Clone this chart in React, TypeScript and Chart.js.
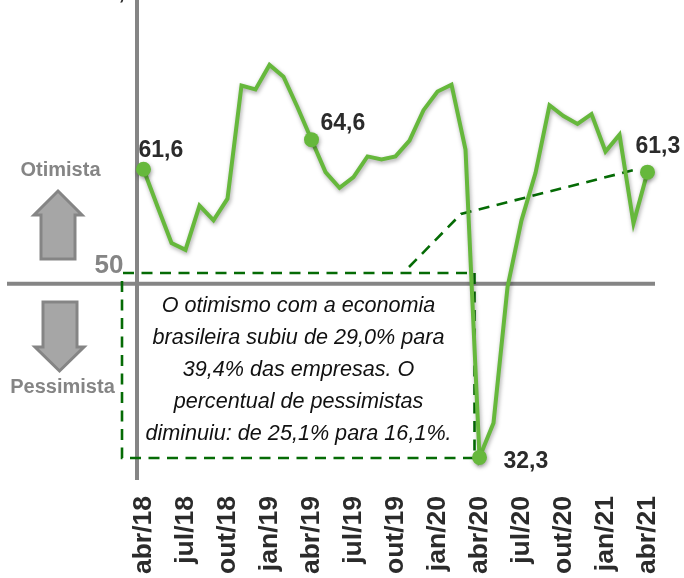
import React, { useEffect, useRef } from "react";
import { Chart, registerables } from "chart.js";

Chart.register(...registerables);

const months = [
  "abr/18","mai/18","jun/18","jul/18","ago/18","set/18","out/18","nov/18","dez/18","jan/19","fev/19","mar/19","abr/19",
  "mai/19","jun/19","jul/19","ago/19","set/19","out/19","nov/19","dez/19","jan/20","fev/20","mar/20","abr/20",
  "mai/20","jun/20","jul/20","ago/20","set/20","out/20","nov/20","dez/20","jan/21","fev/21","mar/21","abr/21",
];
const values = [
  61.6,57.8,54.1,53.4,57.9,56.4,58.6,70.1,69.7,72.2,71.0,67.9,64.6,
  61.3,59.7,60.8,62.9,62.6,62.9,64.5,67.6,69.5,70.2,63.6,32.3,
  35.8,49.6,56.4,61.2,68.1,67.0,66.2,67.2,63.4,65.1,56.1,61.3,
];
const labelled = [0, 12, 24, 36];
const valueLabels: Record<number, string> = { 0: "61,6", 12: "64,6", 24: "32,3", 36: "61,3" };
const labelOffsets: Record<number, [number, number]> = { 0: [-5, -12], 12: [9, -10], 24: [24, 11], 36: [-12, -19] };
const noteLines = [
  "O otimismo com a economia",
  "brasileira subiu de 29,0% para",
  "39,4% das empresas. O",
  "percentual de pessimistas",
  "diminuiu: de 25,1% para 16,1%.",
];
const GREEN = "#66B83C";
const GRAY = "#858585";
const DASH = "#056B05";

const decor = {
  id: "decor",
  beforeDatasetsDraw(chart: any) {
    const { ctx, scales } = chart;
    const y50 = scales.y.getPixelForValue(50) + 0.5;
    ctx.save();
    ctx.fillStyle = "#111";
    ctx.font = "italic 22.5px 'Liberation Sans'";
    ctx.textAlign = "center";
    ctx.textBaseline = "alphabetic";
    noteLines.forEach((t, i) => {
      ctx.save();
      ctx.translate(298.5, 312 + i * 32);
      ctx.scale(0.96, 1);
      ctx.fillText(t, 0, 0);
      ctx.restore();
    });

    ctx.strokeStyle = GRAY;
    ctx.lineWidth = 4;
    ctx.beginPath();
    ctx.moveTo(7, y50);
    ctx.lineTo(655, y50);
    ctx.stroke();
    ctx.beginPath();
    ctx.moveTo(137, 0);
    ctx.lineTo(137, 480);
    ctx.stroke();

    ctx.strokeStyle = DASH;
    ctx.lineWidth = 2.6;
    ctx.setLineDash([11, 7.5]);
    const seg = (pts: number[][]) => {
      ctx.beginPath();
      pts.forEach((p, i) => (i ? ctx.lineTo(p[0], p[1]) : ctx.moveTo(p[0], p[1])));
      ctx.stroke();
    };
    seg([[123, 273], [472, 273]]);
    seg([[122, 281], [122, 458], [474, 458]]);
    seg([[474.5, 273], [474.5, 458]]);
    seg([[409, 267], [461, 214], [634, 170]]);
    ctx.setLineDash([]);

    const arrow = (pts: number[][]) => {
      ctx.beginPath();
      pts.forEach((p, i) => (i ? ctx.lineTo(p[0], p[1]) : ctx.moveTo(p[0], p[1])));
      ctx.closePath();
      ctx.fillStyle = "#A6A6A6";
      ctx.strokeStyle = "#858585";
      ctx.lineWidth = 3;
      ctx.fill();
      ctx.stroke();
    };
    arrow([[58, 191], [82, 215], [75, 215], [75, 259], [41, 259], [41, 215], [34, 215]]);
    arrow([[43, 302], [77, 302], [77, 347], [84, 347], [59.5, 371], [35, 347], [43, 347]]);

    ctx.fillStyle = GRAY;
    ctx.font = "bold 20px 'Liberation Sans'";
    ctx.textAlign = "center";
    ctx.fillText("Otimista", 60.5, 176);
    ctx.fillText("Pessimista", 62.5, 393);
    ctx.font = "bold 26px 'Liberation Sans'";
    ctx.textAlign = "right";
    ctx.fillText("50", 123.5, 273);
    ctx.fillStyle = "#2B2B2B";
    ctx.font = "bold 23px 'Liberation Sans'";
    ctx.textAlign = "left";
    ctx.fillText(",", 118.5, -1.5);
    ctx.restore();
  },
  beforeDatasetDraw(chart: any) {
    const { ctx } = chart;
    ctx.save();
    ctx.shadowColor = "rgba(0,0,0,0.35)";
    ctx.shadowBlur = 4;
    ctx.shadowOffsetX = 1;
    ctx.shadowOffsetY = 2;
  },
  afterDatasetDraw(chart: any) {
    chart.ctx.restore();
  },
  afterDatasetsDraw(chart: any) {
    const { ctx } = chart;
    const meta = chart.getDatasetMeta(0);
    ctx.save();
    ctx.fillStyle = "#2B2B2B";
    ctx.font = "bold 23px 'Liberation Sans'";
    ctx.textAlign = "left";
    ctx.textBaseline = "alphabetic";
    labelled.forEach((i) => {
      const p = meta.data[i];
      const o = labelOffsets[i];
      ctx.fillText(valueLabels[i], p.x + o[0], p.y + o[1]);
    });
    ctx.restore();
  },
};

export default function App() {
  const ref = useRef<HTMLCanvasElement>(null);
  useEffect(() => {
    document.body.style.margin = "0";
    const chart = new Chart(ref.current!, {
      type: "line",
      data: {
        labels: months,
        datasets: [
          {
            data: values,
            borderColor: GREEN,
            backgroundColor: GREEN,
            borderWidth: 4,
            tension: 0,
            borderJoinStyle: "miter",
            clip: false,
            pointRadius: (c: any) => (labelled.includes(c.dataIndex) ? 7.5 : 0),
            pointBackgroundColor: GREEN,
            pointBorderWidth: 0,
          },
        ],
      },
      plugins: [decor],
      options: {
        responsive: false,
        animation: false,
        layout: { autoPadding: false, padding: { left: 136.5, right: 29.5, top: 0, bottom: 0 } },
        plugins: { legend: { display: false }, tooltip: { enabled: false } },
        scales: {
          x: {
            offset: true,
            border: { display: false },
            grid: { display: false },
            afterFit: (s: any) => {
              s.height = 98;
              s.paddingLeft = 0;
              s.paddingRight = 0;
            },
            ticks: {
              autoSkip: false,
              maxRotation: 90,
              minRotation: 90,
              padding: 8,
              color: "#2B2B2B",
              font: { family: "'Liberation Sans'", weight: "bold", size: 26.5 },
              callback: (_v: any, i: number) => (i % 3 === 0 ? months[i] : ""),
            },
          },
          y: {
            display: false,
            min: 30,
            max: 78.8,
          },
        },
      },
    } as any);
    return () => chart.destroy();
  }, []);
  return <canvas ref={ref} width={684} height={578} style={{ display: "block" }} />;
}
